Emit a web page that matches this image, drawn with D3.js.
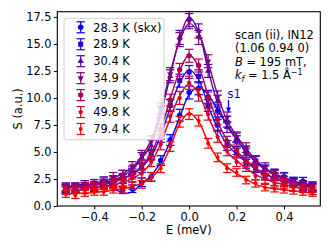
<!DOCTYPE html>
<html>
<head>
<meta charset="utf-8">
<script src="https://cdn.jsdelivr.net/npm/d3@7"></script>
<style>
  body { margin: 0; background: #fff; }
  svg { display: block; font-family: "DejaVu Sans", sans-serif; }
</style>
</head>
<body>
<script>
// Energy transfer grid (meV)
const energies = [-0.52,-0.48,-0.44,-0.40,-0.36,-0.32,-0.28,-0.24,-0.20,-0.16,-0.12,-0.08,-0.04,0.00,
                  0.04,0.08,0.12,0.16,0.20,0.24,0.28,0.32,0.36,0.40,0.44,0.48,0.52];

const labels = ["28.3 K (skx)", "28.9 K", "30.4 K", "34.9 K", "39.9 K", "49.8 K", "79.4 K"];

// measured points
const pts283 = [1.6,1.7,1.8,1.7,1.9,1.8,1.5,1.6,2.2,2.7,4.2,6.1,8.4,10.5,10.9,10.1,8.8,7.8,6.0,5.1,4.2,3.4,3.0,2.7,2.3,2.3,1.8];
const pts289 = [1.7,1.6,1.8,2.1,2.0,2.4,2.5,3.1,3.5,4.8,6.4,9.3,11.6,12.4,12.0,9.3,7.5,5.6,4.9,3.9,3.5,2.8,2.7,2.2,2.2,1.8,1.7];
const pts304 = [1.6,1.8,2.0,1.9,2.3,2.3,2.9,3.3,4.5,5.6,8.7,12.0,15.6,17.3,16.2,12.5,9.7,7.3,6.3,4.9,4.2,3.3,3.0,2.4,2.3,1.9,1.7];
const pts349 = [1.8,1.7,2.0,2.1,2.2,2.7,2.9,3.7,4.7,6.0,9.0,12.2,15.4,17.1,15.6,13.4,10.1,8.2,6.4,5.4,4.2,3.6,2.9,2.7,2.1,2.0,1.9];
const pts399 = [1.5,1.6,1.8,1.8,2.1,2.1,2.6,2.9,3.8,4.7,7.1,9.8,12.6,13.9,13.0,10.0,8.0,6.0,5.2,4.1,3.6,2.9,2.7,2.2,2.1,1.7,1.6];
const pts498 = [1.4,1.5,1.5,1.8,1.7,2.0,2.1,2.6,3.0,4.1,5.7,8.3,10.0,11.4,10.3,8.5,6.4,5.1,4.1,3.6,2.8,2.5,2.1,2.0,1.7,1.6,1.4];
const pts794 = [1.1,1.0,1.2,1.3,1.3,1.5,1.5,1.9,2.0,2.7,3.5,5.5,7.8,8.5,7.9,5.8,4.5,3.5,3.1,2.4,2.1,1.7,1.6,1.5,1.4,1.3,1.2];

// error bars
const err283 = [.35,.35,.35,.35,.35,.35,.35,.35,.4,.4,.45,.5,.55,.6,.6,.6,.55,.5,.5,.45,.45,.4,.4,.4,.35,.35,.35];
const err289 = [.35,.35,.35,.35,.35,.4,.4,.4,.4,.45,.5,.55,.6,.6,.6,.55,.5,.45,.45,.4,.4,.4,.35,.35,.35,.35,.35];
const err304 = [.35,.35,.35,.35,.4,.4,.4,.4,.45,.5,.55,.6,.65,.7,.65,.6,.55,.5,.45,.45,.4,.4,.4,.35,.35,.35,.35];
const err349 = [.35,.35,.35,.35,.4,.4,.4,.4,.45,.5,.55,.6,.65,.7,.65,.6,.55,.5,.45,.45,.4,.4,.4,.35,.35,.35,.35];
const err399 = [.35,.35,.35,.35,.35,.4,.4,.4,.45,.45,.5,.55,.6,.6,.6,.55,.5,.45,.45,.4,.4,.4,.35,.35,.35,.35,.35];
const err498 = [.35,.35,.35,.35,.35,.4,.4,.4,.4,.45,.5,.55,.6,.6,.6,.55,.5,.45,.45,.4,.4,.4,.35,.35,.35,.35,.35];
const err794 = [.3,.3,.3,.3,.3,.3,.3,.35,.35,.4,.4,.45,.5,.5,.5,.45,.4,.4,.35,.35,.35,.3,.3,.3,.3,.3,.3];

// fitted curves
const fit283 = [1.8,1.9,2.0,2.0,2.0,1.7,1.2,1.3,2.1,2.8,4.1,6.0,8.2,10.3,11.0,10.3,8.9,7.5,6.2,5.0,4.1,3.4,2.9,2.6,2.3,2.1,1.9];
const fit289 = [1.8,1.8,1.9,2.0,2.1,2.3,2.6,2.9,3.6,4.6,6.5,9.1,11.4,12.6,11.7,9.3,7.2,5.7,4.8,4.1,3.4,2.9,2.6,2.3,2.1,1.9,1.8];
const fit304 = [1.7,1.8,1.9,2.0,2.2,2.4,2.8,3.4,4.4,5.7,8.5,12.0,15.5,17.5,16.1,12.6,9.5,7.4,6.2,5.0,4.1,3.4,2.9,2.5,2.2,1.9,1.8];
const fit349 = [1.7,1.8,1.9,2.1,2.3,2.6,3.0,3.6,4.6,6.1,8.9,12.3,15.3,16.9,16.0,13.3,10.3,7.9,6.5,5.3,4.3,3.5,3.0,2.6,2.2,2.0,1.8];
const fit399 = [1.6,1.7,1.7,1.9,2.0,2.2,2.5,3.0,3.7,4.9,7.0,9.9,12.5,14.0,12.9,10.2,7.8,6.1,5.1,4.2,3.5,3.0,2.6,2.3,2.0,1.8,1.7];
const fit498 = [1.5,1.5,1.6,1.7,1.8,1.9,2.2,2.5,3.1,4.0,5.8,8.1,10.2,11.3,10.4,8.3,6.4,5.0,4.2,3.5,2.9,2.5,2.2,2.0,1.8,1.6,1.5];
const fit794 = [1.1,1.15,1.2,1.25,1.35,1.45,1.6,1.8,2.1,2.6,3.6,5.4,7.6,8.6,7.8,5.9,4.4,3.6,3.0,2.5,2.0,1.75,1.6,1.5,1.4,1.3,1.2];

const xTicks = [-0.4, -0.2, 0.0, 0.2, 0.4];
const yTicks = [0, 2.5, 5, 7.5, 10, 12.5, 15, 17.5];

// "s1" arrow (E, S): start and tip
const s1Arrow = [[0.166, 9.8], [0.166, 8.6]];

const colors = ["#0000ff", "#2a00d5", "#5500aa", "#7f007f", "#aa0055", "#d5002a", "#ff0000"];
const markers = ["circle", "square", "triUp", "triDown", "hex", "pent", "dot"];

const series = labels.map((label, i) => ({
    label,
    pts: [pts283, pts289, pts304, pts349, pts399, pts498, pts794][i],
    err: [err283, err289, err304, err349, err399, err498, err794][i],
    fit: [fit283, fit289, fit304, fit349, fit399, fit498, fit794][i],
    color: colors[i],
    marker: markers[i]
}));

const W = 333, H = 250;
const pLeft = 57.3, pRight = 320.3, pTop = 11.7, pBottom = 206;
const fs = 11.4;

const svg = d3.select("body").append("svg")
    .attr("width", W).attr("height", H);

svg.append("rect").attr("width", W).attr("height", H).attr("fill", "#fff");

const x = d3.scaleLinear().domain([-0.556, 0.553]).range([pLeft, pRight]);
const y = d3.scaleLinear().domain([0, 17.98]).range([pBottom, pTop]);

function poly(n, r, rot) {
    const p = [];
    for (let k = 0; k < n; k++) {
        const a = rot + 2 * Math.PI * k / n;
        p.push([r * Math.sin(a), -r * Math.cos(a)]);
    }
    return "M" + p.map(q => q[0].toFixed(2) + "," + q[1].toFixed(2)).join("L") + "Z";
}

function markerPath(kind) {
    if (kind === "circle") return d3.symbol(d3.symbolCircle, 24)();
    if (kind === "square") return poly(4, 3.6, Math.PI / 4);
    if (kind === "triUp") return poly(3, 3.6, 0);
    if (kind === "triDown") return poly(3, 3.6, Math.PI);
    if (kind === "hex") return poly(6, 3.0, 0);
    if (kind === "pent") return poly(5, 2.4, 0);
    return d3.symbol(d3.symbolCircle, 12)();
}

// axes
const fmt = d3.format(".1f");
svg.append("g")
    .attr("transform", `translate(0,${pBottom})`)
    .call(d3.axisBottom(x).tickValues(xTicks).tickFormat(fmt).tickSize(3.5).tickSizeOuter(0).tickPadding(3.0))
    .call(g => g.select(".domain").remove())
    .call(g => g.selectAll("text").attr("font-size", fs).attr("fill", "#000").attr("font-family", "DejaVu Sans"))
    .call(g => g.selectAll("line").attr("stroke", "#000").attr("stroke-width", 1));

svg.append("g")
    .attr("transform", `translate(${pLeft},0)`)
    .call(d3.axisLeft(y).tickValues(yTicks).tickFormat(fmt).tickSize(3.5).tickSizeOuter(0).tickPadding(2.3))
    .call(g => g.select(".domain").remove())
    .call(g => g.selectAll("text").attr("font-size", fs).attr("fill", "#000").attr("font-family", "DejaVu Sans"))
    .call(g => g.selectAll("line").attr("stroke", "#000").attr("stroke-width", 1));

// data
const plot = svg.append("g");
const line = d3.line().x(d => x(d[0])).y(d => y(d[1])).curve(d3.curveCatmullRom.alpha(0.5));
const cap = 4.2;

series.forEach(s => {
    const g = plot.append("g");
    g.append("path")
        .datum(energies.map((e, i) => [e, s.fit[i]]))
        .attr("d", line)
        .attr("fill", "none")
        .attr("stroke", s.color)
        .attr("stroke-width", 1.4);

    const pt = g.selectAll(".pt")
        .data(energies.map((e, i) => ({ e, v: s.pts[i], err: s.err[i] })))
        .join("g")
        .attr("transform", d => `translate(${x(d.e)},0)`);

    pt.append("line")
        .attr("y1", d => y(d.v - d.err)).attr("y2", d => y(d.v + d.err))
        .attr("stroke", s.color).attr("stroke-width", 1.2);
    pt.append("line")
        .attr("x1", -cap).attr("x2", cap)
        .attr("y1", d => y(d.v + d.err)).attr("y2", d => y(d.v + d.err))
        .attr("stroke", s.color).attr("stroke-width", 1.2);
    pt.append("line")
        .attr("x1", -cap).attr("x2", cap)
        .attr("y1", d => y(d.v - d.err)).attr("y2", d => y(d.v - d.err))
        .attr("stroke", s.color).attr("stroke-width", 1.2);
    pt.append("path")
        .attr("transform", d => `translate(0,${y(d.v)})`)
        .attr("d", markerPath(s.marker))
        .attr("fill", s.color);
});

// s1 annotation
const [a0, a1] = s1Arrow;
svg.append("line")
    .attr("x1", x(a0[0])).attr("x2", x(a1[0]))
    .attr("y1", y(a0[1])).attr("y2", y(a1[1]) - 5)
    .attr("stroke", "#0000ff").attr("stroke-width", 1.3);
svg.append("path")
    .attr("d", `M${x(a1[0]) - 2.5},${y(a1[1]) - 5.5}L${x(a1[0]) + 2.5},${y(a1[1]) - 5.5}L${x(a1[0])},${y(a1[1])}Z`)
    .attr("fill", "#0000ff");
svg.append("text")
    .attr("x", x(a0[0]) - 1).attr("y", y(a0[1]) - 2)
    .attr("font-size", fs).attr("fill", "#0000ff")
    .text("s1");

// frame
svg.append("rect")
    .attr("x", pLeft).attr("y", pTop)
    .attr("width", pRight - pLeft).attr("height", pBottom - pTop)
    .attr("fill", "none").attr("stroke", "#000").attr("stroke-width", 1.1);

// legend
const lg = svg.append("g");
lg.append("rect")
    .attr("x", 64).attr("y", 18.3).attr("width", 100).attr("height", 121.5)
    .attr("rx", 2.5)
    .attr("fill", "#fff").attr("fill-opacity", 0.8)
    .attr("stroke", "#d0d0d0").attr("stroke-width", 1);

series.forEach((s, i) => {
    const cy = 27.3 + i * 16.95;
    const cx = 80.7;
    const e = lg.append("g");
    e.append("line").attr("x1", cx).attr("x2", cx).attr("y1", cy - 5.5).attr("y2", cy + 5.5)
        .attr("stroke", s.color).attr("stroke-width", 1.2);
    [-5.5, 5.5].forEach(dy => e.append("line")
        .attr("x1", cx - cap).attr("x2", cx + cap).attr("y1", cy + dy).attr("y2", cy + dy)
        .attr("stroke", s.color).attr("stroke-width", 1.2));
    e.append("path").attr("transform", `translate(${cx},${cy})`)
        .attr("d", markerPath(s.marker)).attr("fill", s.color);
    e.append("text").attr("x", 93.3).attr("y", cy + 4.2)
        .attr("font-size", fs).attr("fill", "#000")
        .text(s.label);
});

// info text
const info = svg.append("g").attr("font-size", fs).attr("fill", "#000");
info.append("text").attr("x", 235).attr("y", 38.5).text("scan (ii), IN12");
info.append("text").attr("x", 235).attr("y", 52).text("(1.06 0.94 0)");
const t3 = info.append("text").attr("x", 235).attr("y", 65.5);
t3.append("tspan").attr("font-style", "italic").text("B");
t3.append("tspan").text(" = 195 mT,");
const t4 = info.append("text").attr("x", 235).attr("y", 79);
t4.append("tspan").attr("font-style", "italic").text("k");
t4.append("tspan").attr("font-style", "italic").attr("font-size", 8).attr("dy", 2.5).text("f");
t4.append("tspan").attr("dy", -2.5).text(" = 1.5 Å");
t4.append("tspan").attr("font-size", 8).attr("dy", -4.5).text("−1");

// axis labels
svg.append("text")
    .attr("x", (pLeft + pRight) / 2).attr("y", 233.5)
    .attr("text-anchor", "middle").attr("font-size", fs)
    .text("E (meV)");
svg.append("text")
    .attr("transform", `translate(22,${(pTop + pBottom) / 2}) rotate(-90)`)
    .attr("text-anchor", "middle").attr("font-size", fs)
    .text("S (a.u.)");
</script>
</body>
</html>
